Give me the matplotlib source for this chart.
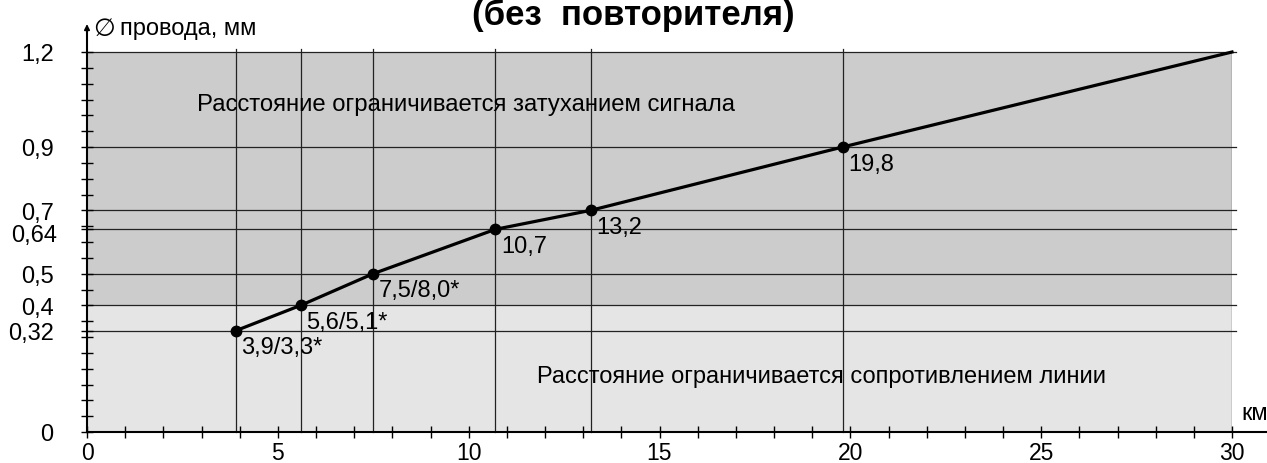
import matplotlib
matplotlib.use("Agg")
import matplotlib.pyplot as plt
from matplotlib.ticker import MultipleLocator

plt.rcParams['font.family'] = ['Liberation Sans', 'DejaVu Sans']

distance_km = [3.9, 5.6, 7.5, 10.7, 13.2, 19.8, 30.0]
diameter_mm = [0.32, 0.4, 0.5, 0.64, 0.7, 0.9, 1.2]
point_labels = ["3,9/3,3*", "5,6/5,1*", "7,5/8,0*", "10,7", "13,2", "19,8", None]
ytick_values = [0, 0.32, 0.4, 0.5, 0.64, 0.7, 0.9, 1.2]
ytick_labels = ["0", "0,32", "0,4", "0,5", "0,64", "0,7", "0,9", "1,2"]
xtick_values = [0, 5, 10, 15, 20, 25, 30]
xtick_labels = ["0", "5", "10", "15", "20", "25", "30"]
boundary = 0.4
title = "(без  повторителя)"
region_top_text = "Расстояние ограничивается затуханием сигнала"
region_bottom_text = "Расстояние ограничивается сопротивлением линии"

W, H = 1267, 464
fig = plt.figure(figsize=(W / 100, H / 100), dpi=100)
ax = fig.add_axes([87 / W, (H - 433) / H, (1232 - 87) / W, (433 - 53) / H])
xmax, ymax = 30, 1.2
ax.set_xlim(0, xmax)
ax.set_ylim(0, ymax)

# shaded regions
ax.axhspan(0, boundary, color='#e5e5e5', zorder=0, lw=0)
ax.axhspan(boundary, ymax, color='#cccccc', zorder=0, lw=0)

# horizontal grid lines
for y in ytick_values[1:]:
    ax.plot([0, xmax + 0.1], [y, y], color='#222222', lw=0.9, zorder=1, clip_on=False)
# vertical lines at data points and border
for x in distance_km[:-1]:
    ax.plot([x, x], [0, ymax + 0.01], color='#222222', lw=0.9, zorder=1, clip_on=False)
ax.plot([xmax, xmax], [0, ymax], color='#222222', lw=0.9, zorder=1)

# data line
ax.plot(distance_km, diameter_mm, color='black', lw=2.3, zorder=3, clip_on=False)
ax.plot(distance_km[:-1], diameter_mm[:-1], 'o', color='black', ms=7.5, zorder=4)
for x, y, lab in zip(distance_km, diameter_mm, point_labels):
    if lab:
        ax.annotate(lab, (x, y), xytext=(4, -4), textcoords='offset points',
                    ha='left', va='top', fontsize=17, zorder=5)

# region texts
ax.text(2.88, 1.036, region_top_text, fontsize=17.2, ha='left', va='center')
ax.text(11.8, 0.177, region_bottom_text, fontsize=17, ha='left', va='center')

# spines / axes
for s in ['top', 'right', 'left', 'bottom']:
    ax.spines[s].set_visible(False)
ax.plot([0, 0], [0, 1.27], color='black', lw=1.5, clip_on=False, zorder=6)
ax.annotate('', xy=(0, 1.297), xytext=(0, 1.26),
            arrowprops=dict(arrowstyle='-|>', color='black', lw=1.2, mutation_scale=8),
            annotation_clip=False)
ax.plot([0, 30.95], [0, 0], color='black', lw=1.5, clip_on=False, zorder=6)

ax.set_xticks(xtick_values)
ax.set_xticklabels(xtick_labels, fontsize=16.5)
ax.set_yticks(ytick_values)
ax.set_yticklabels(["" if v == 0.64 else l for v, l in zip(ytick_values, ytick_labels)],
                   fontsize=17)
ax.xaxis.set_minor_locator(MultipleLocator(1))
ax.yaxis.set_minor_locator(MultipleLocator(0.05))
ax.tick_params(axis='both', which='both', direction='inout', length=8, width=1, color='black')
ax.tick_params(axis='x', which='major', pad=2.5)
ax.tick_params(axis='y', which='major', pad=20)
# 0,64 label nudged down as in the reference, to avoid touching 0,7
for v, l in zip(ytick_values, ytick_labels):
    if v == 0.64:
        ax.annotate(l, xy=(0, v), xycoords=ax.get_yaxis_transform(),
                    xytext=(-30, -6), textcoords='offset pixels',
                    ha='right', va='center', fontsize=17, annotation_clip=False)

# axis labels
ax.text(0.15, 1.277, "∅", fontsize=18, ha='left', va='center', clip_on=False,
        family=['DejaVu Sans'])
ax.text(0.87, 1.277, "провода, мм", fontsize=17, ha='left', va='center', clip_on=False)
ax.text(30.25, 0.06, "км", fontsize=17, ha='left', va='center', clip_on=False)

fig.text(0.5, 1 - 15 / H, title, fontsize=25, fontweight='bold', ha='center', va='center')

fig.savefig('out.png', dpi=100)
